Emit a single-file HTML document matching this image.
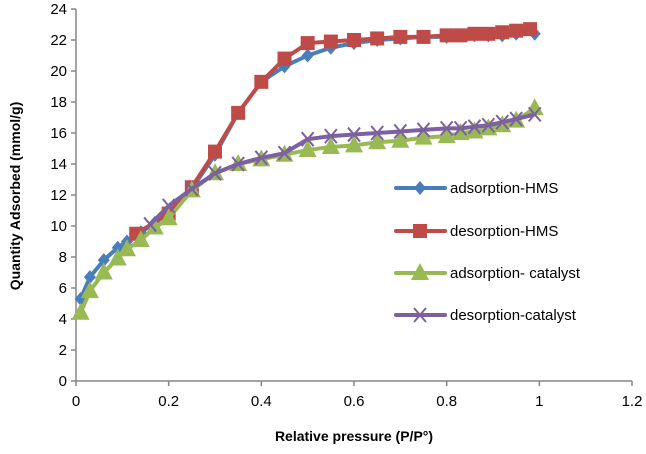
<!DOCTYPE html>
<html><head><meta charset="utf-8"><style>
html,body{margin:0;padding:0;background:#fff;}
svg text{font-family:"Liberation Sans",Arial,sans-serif;}
</style></head><body>
<svg id="chart" width="646" height="449" xmlns="http://www.w3.org/2000/svg"></svg>
<script>
const xTicks=[0,0.2,0.4,0.6,0.8,1,1.2];
const xTickLabels=["0","0.2","0.4","0.6","0.8","1","1.2"];
const yTicks=[0,2,4,6,8,10,12,14,16,18,20,22,24];
const adsHmsX=[0.01,0.03,0.06,0.09,0.11,0.14,0.17,0.2,0.25,0.3,0.35,0.4,0.45,0.5,0.55,0.6,0.65,0.7,0.75,0.8,0.83,0.86,0.89,0.92,0.95,0.99];
const adsHmsY=[5.3,6.7,7.8,8.6,9.0,9.6,10.2,10.9,12.4,14.6,17.3,19.3,20.3,21.0,21.5,21.8,22.0,22.1,22.2,22.2,22.3,22.3,22.3,22.3,22.4,22.4];
const desHmsX=[0.98,0.95,0.92,0.89,0.86,0.83,0.8,0.75,0.7,0.65,0.6,0.55,0.5,0.45,0.4,0.35,0.3,0.25,0.2,0.13];
const desHmsY=[22.7,22.6,22.5,22.4,22.4,22.3,22.3,22.2,22.2,22.1,22.0,21.9,21.8,20.8,19.3,17.3,14.8,12.5,10.8,9.5];
const adsCatX=[0.01,0.03,0.06,0.09,0.11,0.14,0.17,0.2,0.25,0.3,0.35,0.4,0.45,0.5,0.55,0.6,0.65,0.7,0.75,0.8,0.83,0.86,0.89,0.92,0.95,0.99];
const adsCatY=[4.4,5.8,7.0,7.9,8.5,9.1,9.9,10.5,12.3,13.4,14.0,14.3,14.6,14.9,15.1,15.2,15.4,15.5,15.7,15.8,16.0,16.1,16.3,16.5,16.8,17.6];
const desCatX=[0.99,0.95,0.92,0.89,0.86,0.83,0.8,0.75,0.7,0.65,0.6,0.55,0.5,0.45,0.4,0.35,0.3,0.25,0.2,0.16];
const desCatY=[17.2,16.9,16.7,16.5,16.4,16.3,16.3,16.2,16.1,16.0,15.9,15.8,15.6,14.7,14.4,14.0,13.4,12.4,11.3,10.1];

const NS="http://www.w3.org/2000/svg";
const svg=document.getElementById('chart');
const X0=76,X1=632,Y0=381,Y1=9;
const sx=v=>X0+(v/1.2)*(X1-X0);
const sy=v=>Y0-(v/24)*(Y0-Y1);
function mk(tag,attrs,parent){const e=document.createElementNS(NS,tag);for(const k in attrs)e.setAttribute(k,attrs[k]);(parent||svg).appendChild(e);return e;}

const ax=mk('g',{});


mk('line',{x1:X0,y1:Y1,x2:X0,y2:Y0,stroke:'#868686','stroke-width':1.5},ax);
mk('line',{x1:X0,y1:Y0,x2:X1,y2:Y0,stroke:'#868686','stroke-width':1.5},ax);
yTicks.forEach(v=>{
  mk('line',{x1:X0-5,y1:sy(v),x2:X0,y2:sy(v),stroke:'#868686','stroke-width':1.5},ax);
  const t=mk('text',{x:X0-9,y:sy(v)+5,'text-anchor':'end','font-size':15,fill:'#000'},ax);
  t.textContent=String(v);
  
  
});
xTicks.forEach((v,i)=>{
  mk('line',{x1:sx(v),y1:Y0,x2:sx(v),y2:Y0+5,stroke:'#868686','stroke-width':1.5},ax);
  const t=mk('text',{x:sx(v),y:Y0+25,'text-anchor':'middle','font-size':15,fill:'#000'},ax);
  t.textContent=xTickLabels[i];
  
  
});
const xt=mk('text',{x:354,y:441,'text-anchor':'middle','font-size':14,'font-weight':'bold'});
xt.textContent='Relative pressure (P/P°)';


const yt=mk('text',{x:0,y:0,'text-anchor':'middle','font-size':14,'font-weight':'bold',transform:'translate(20,196) rotate(-90)'});
yt.textContent='Quantity Adsorbed (mmol/g)';



function marker(kind,x,y,color,g){
  if(kind==='diamond') mk('polygon',{points:`${x},${y-7} ${x+6},${y} ${x},${y+7} ${x-6},${y}`,fill:color},g);
  else if(kind==='square') mk('rect',{x:x-7,y:y-7,width:14,height:14,fill:color},g);
  else if(kind==='triangle') mk('polygon',{points:`${x},${y-10} ${x+9},${y+7} ${x-9},${y+7}`,fill:color},g);
  else if(kind==='x'){mk('line',{x1:x-6,y1:y-7,x2:x+6,y2:y+7,stroke:color,'stroke-width':2},g);mk('line',{x1:x-6,y1:y+7,x2:x+6,y2:y-7,stroke:color,'stroke-width':2},g);}
}
function series(xs,ys,color,kind,name){
  const g=mk('g',{});
  
  
  mk('polyline',{points:xs.map((v,i)=>sx(v)+','+sy(ys[i])).join(' '),fill:'none',stroke:color,'stroke-width':4,'stroke-linejoin':'round'},g);
  xs.forEach((v,i)=>marker(kind,sx(v),sy(ys[i]),color,g));
}
series(adsHmsX,adsHmsY,'#4a7ebb','diamond','series-adsorption-hms');
series(desHmsX,desHmsY,'#be4b48','square','series-desorption-hms');
series(adsCatX,adsCatY,'#98b954','triangle','series-adsorption-catalyst');
series(desCatX,desCatY,'#7d60a0','x','series-desorption-catalyst');

const legend=[['adsorption-HMS','#4a7ebb','diamond',188],['desorption-HMS','#be4b48','square',231],['adsorption- catalyst','#98b954','triangle',273],['desorption-catalyst','#7d60a0','x',315]];
legend.forEach(l=>{
  const g=mk('g',{});
  
  
  mk('line',{x1:396,y1:l[3],x2:445,y2:l[3],stroke:l[1],'stroke-width':4,'stroke-linecap':'round'},g);
  marker(l[2],420,l[3],l[1],g);
  const t=mk('text',{x:450,y:l[3]+5,'font-size':15,fill:'#000'},g);
  t.textContent=l[0];
});
</script>
</body></html>
